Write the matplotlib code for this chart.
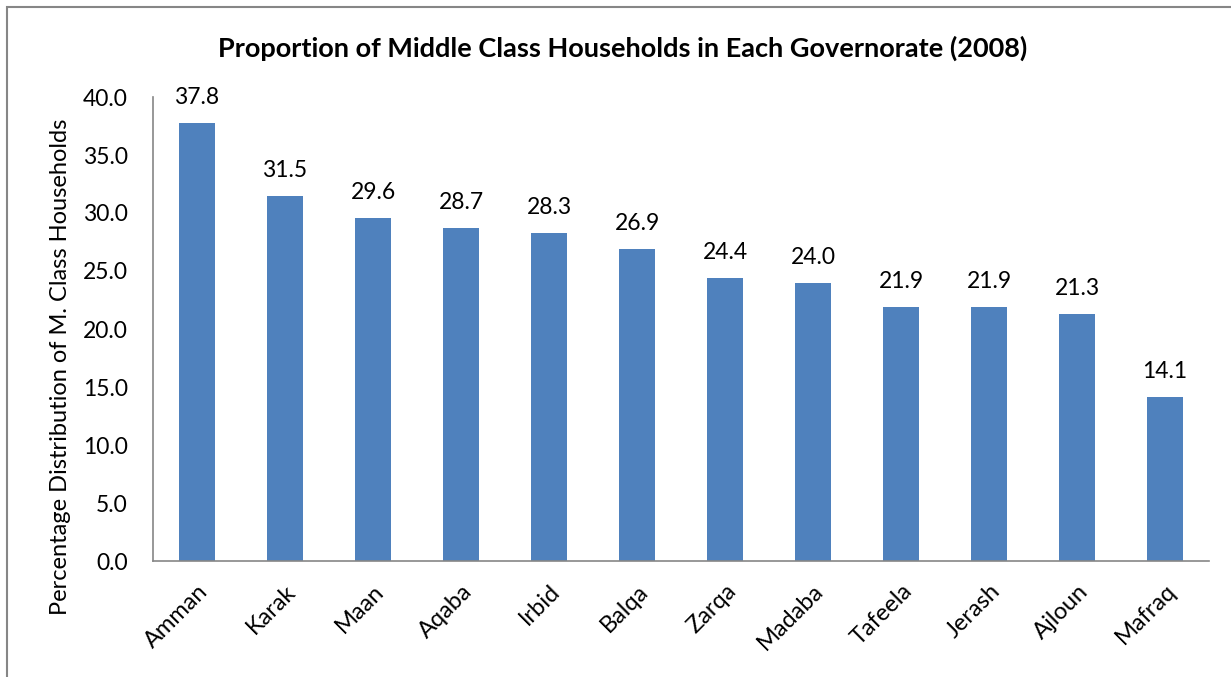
import matplotlib
matplotlib.use("Agg")
import matplotlib.pyplot as plt
from matplotlib.patches import Rectangle

governorates = ["Amman", "Karak", "Maan", "Aqaba", "Irbid", "Balqa", "Zarqa",
                "Madaba", "Tafeela", "Jerash", "Ajloun", "Mafraq"]
values = [37.8, 31.5, 29.6, 28.7, 28.3, 26.9, 24.4, 24.0, 21.9, 21.9, 21.3, 14.1]
yticks = [0, 5, 10, 15, 20, 25, 30, 35, 40]

plt.rcParams['font.family'] = ['Lato', 'DejaVu Sans']

fig = plt.figure(figsize=(12.31, 6.77), dpi=100)
ax = fig.add_axes([153/1231, 1 - 561/677, (1209-153)/1231, (561-97)/677])

x = range(len(governorates))
ax.bar(x, values, width=0.4, color="#4F81BD")
for i, v in zip(x, values):
    ax.text(i, v + 2.2, f"{v:.1f}", ha="center", va="center", fontsize=16.5)

ax.set_xlim(-0.5, len(governorates) - 0.5)
ax.set_ylim(0, 40)
ax.set_yticks(yticks)
ax.set_yticklabels([f"{t:.1f}" for t in yticks], fontsize=16.5)
ax.set_xticks(list(x))
ax.set_xticklabels(governorates, rotation=45, ha="right", rotation_mode="anchor", fontsize=17)
ax.tick_params(axis="y", length=0, pad=18)
ax.tick_params(axis="x", length=0, pad=14)
for s in ["top", "right"]:
    ax.spines[s].set_visible(False)
for s in ["left", "bottom"]:
    ax.spines[s].set_color("#868686")
    ax.spines[s].set_linewidth(1.2)

ax.set_ylabel("Percentage Distribution of M. Class Households", fontsize=17,
              va="center")
ax.yaxis.set_label_coords(-0.088, 0.418)
fig.text(623/1231, 1 - 48/677, "Proportion of Middle Class Households in Each Governorate (2008)",
         ha="center", va="center", fontsize=19.5, fontweight="bold")

fig.patches.append(Rectangle((7/1231, -0.01), 1, 1 - 7/677 + 0.01, transform=fig.transFigure,
                             fill=False, edgecolor="#868686", linewidth=1.5))

fig.savefig("out.png", dpi=100)
